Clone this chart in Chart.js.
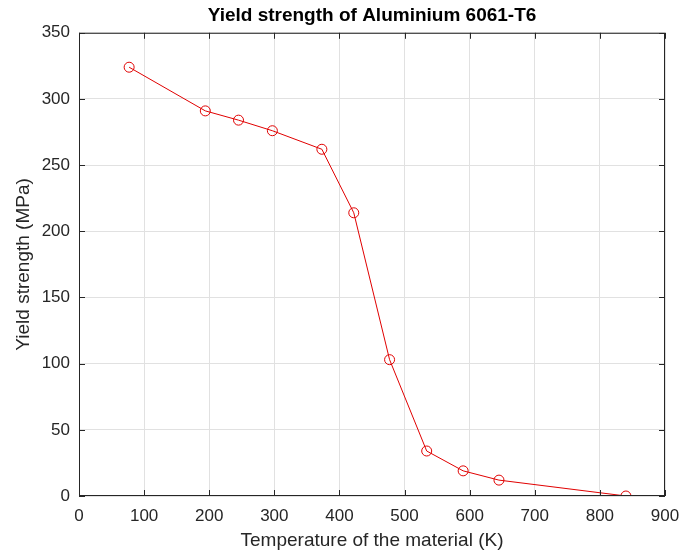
<!DOCTYPE html>
<html>
<head>
<meta charset="utf-8">
<script src="https://cdn.jsdelivr.net/npm/chart.js@4"></script>
<style>
  body { margin: 0; background: #fff; }
  #wrap { width: 680px; height: 556px; position: relative; }
</style>
</head>
<body>
<div id="wrap"><canvas id="myChart"></canvas></div>
<script>
// temperatures (K) and yield strength (MPa)
const temperature = [77, 194, 245, 297, 373, 422, 477, 534, 590, 645, 840];
const yieldStrength = [324, 291, 284, 276, 262, 214, 103, 34, 19, 12, 0];
const xTicks = [0, 100, 200, 300, 400, 500, 600, 700, 800, 900];
const yTicks = [0, 50, 100, 150, 200, 250, 300, 350];

const axisColor = "#262626";
const font = "'Liberation Sans', Arial, sans-serif";

// MATLAB-style box with inward ticks
const boxPlugin = {
  id: "box",
  afterDraw(chart) {
    const { ctx, chartArea: a, scales } = chart;
    ctx.save();
    ctx.strokeStyle = axisColor;
    ctx.lineWidth = 1;
    ctx.strokeRect(a.left + 0.5, a.top + 0.5, a.right - a.left - 1, a.bottom - a.top - 1);
    ctx.beginPath();
    xTicks.forEach((v) => {
      const px = Math.round(scales.x.getPixelForValue(v)) + 0.5;
      ctx.moveTo(px, a.bottom); ctx.lineTo(px, a.bottom - 6);
      ctx.moveTo(px, a.top); ctx.lineTo(px, a.top + 6);
    });
    yTicks.forEach((v) => {
      const py = Math.round(scales.y.getPixelForValue(v)) + 0.5;
      ctx.moveTo(a.left, py); ctx.lineTo(a.left + 6, py);
      ctx.moveTo(a.right, py); ctx.lineTo(a.right - 6, py);
    });
    ctx.stroke();
    ctx.restore();
  },
};

const points = temperature.map((t, i) => ({ x: t, y: yieldStrength[i] }));

const myChart = new Chart(document.getElementById("myChart"), {
  type: "scatter",
  data: {
    datasets: [
      {
        label: "Yield strength",
        data: points,
        showLine: true,
        borderColor: "#e00000",
        borderWidth: 1,
        pointStyle: "circle",
        pointRadius: 5,
        pointBorderWidth: 1,
        pointBackgroundColor: "rgba(0,0,0,0)",
        pointBorderColor: "#e00000",
      },
    ],
  },
  options: {
    responsive: true,
    maintainAspectRatio: false,
    animation: false,
    layout: { padding: { top: 4, right: 15, bottom: 0, left: 0 } },
    plugins: {
      legend: { display: false },
      tooltip: { enabled: false },
      title: {
        display: true,
        fullSize: false,
        text: "Yield strength of Aluminium 6061-T6",
        color: "#000",
        font: { family: font, size: 19, weight: "bold" },
        padding: { top: 0, bottom: 6 },
      },
    },
    scales: {
      x: {
        type: "linear",
        min: 0,
        max: 900,
        afterBuildTicks: (s) => { s.ticks = xTicks.map((v) => ({ value: v })); },
        afterFit: (s) => { s.height = 60; s.paddingLeft = 0; s.paddingRight = 0; },
        grid: { color: "#e1e1e1", drawTicks: false },
        border: { display: false },
        ticks: { color: axisColor, font: { family: font, size: 17 }, padding: 10, maxRotation: 0 },
        title: {
          display: true,
          text: "Temperature of the material (K)",
          color: axisColor,
          font: { family: font, size: 19 },
          padding: { top: 0, bottom: 4 },
        },
      },
      y: {
        type: "linear",
        min: 0,
        max: 350,
        afterBuildTicks: (s) => { s.ticks = yTicks.map((v) => ({ value: v })); },
        afterFit: (s) => { s.width = 79; },
        grid: { color: "#e1e1e1", drawTicks: false },
        border: { display: false },
        ticks: { color: axisColor, font: { family: font, size: 17 }, padding: 9 },
        title: {
          display: true,
          text: "Yield strength (MPa)",
          color: axisColor,
          font: { family: font, size: 19 },
          padding: { top: 12, bottom: 0 },
        },
      },
    },
  },
  plugins: [boxPlugin],
});
</script>
</body>
</html>
